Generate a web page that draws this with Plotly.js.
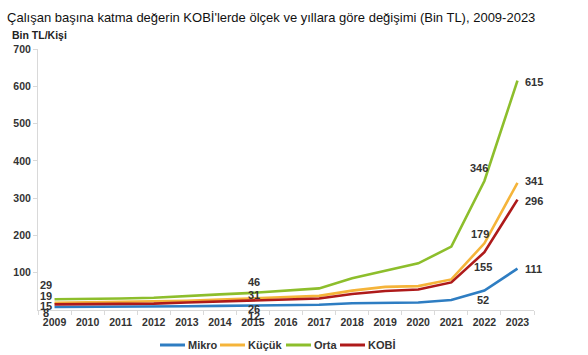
<!DOCTYPE html>
<html>
<head>
<meta charset="utf-8">
<script src="https://cdn.plot.ly/plotly-3.0.1.min.js"></script>
<style>html,body{margin:0;padding:0;background:#fff;}#chart{width:588px;height:355px;}</style>
</head>
<body>
<div id="chart"></div>
<script>
const years = ['2009','2010','2011','2012','2013','2014','2015','2016','2017','2018','2019','2020','2021','2022','2023'];
const mikro = [8, 8, 8, 8, 10, 11, 12, 13, 14, 18, 20, 20, 27, 52, 111];
const kucuk = [19, 20, 21, 22, 25, 28, 31, 33, 38, 52, 62, 64, 82, 179, 341];
const orta  = [29, 29, 31, 33, 38, 42, 46, 51, 58, 85, 105, 125, 170, 346, 615];
const kobi  = [15, 15, 16, 17, 20, 23, 26, 29, 31, 43, 51, 55, 74, 155, 296];
const seriesNames = ['Mikro', 'Küçük', 'Orta', 'KOBİ'];
const yTicks = [100, 200, 300, 400, 500, 600, 700];
const labelYears = ['2009', '2015', '2022', '2023'];

const colors = ['#2E7DC2', '#F5B43A', '#8DBE2C', '#AE1A1A'];
const seriesData = [mikro, kucuk, orta, kobi];
const FONT = 'Liberation Sans, Arial, sans-serif';

// plot area geometry (px)
const W = 588, H = 355, ML = 38, MR = 54, MT = 49, MB = 45;
const PW = W - ML - MR, PH = H - MT - MB;
const px2x = p => (p - ML) / PW;
const px2y = p => (H - MB - p) / PH;

const traces = seriesData.map((vals, i) => ({
  x: years, y: vals, name: seriesNames[i], type: 'scatter', mode: 'lines',
  line: {color: colors[i], width: 2.6}, hoverinfo: 'skip', showlegend: false
}));

// label offsets (px) per label year and series [mikro, kucuk, orta, kobi]
const shifts = {
  '2009': {xs: [-9, -9, -9, -9], xa: 'center', ys: [-6, 7, 14, -1.5]},
  '2015': {xs: [1, 1, 1, 1], xa: 'center', ys: [-10.5, 3.5, 11, -9]},
  '2022': {xs: [-1, -4, -5, -1.5], xa: 'center', ys: [-9, 9, 13, -15]},
  '2023': {xs: [6, 6, 6, 6], xa: 'left', ys: [0, 2, -1, -1]}
};
const annotations = [];
labelYears.forEach(yr => {
  const idx = years.indexOf(yr);
  const s = shifts[yr];
  seriesData.forEach((vals, i) => {
    annotations.push({
      x: idx, y: vals[idx], xref: 'x', yref: 'y', text: String(vals[idx]),
      showarrow: false, xanchor: s.xa, yanchor: 'middle', xshift: s.xs[i], yshift: s.ys[i],
      font: {family: FONT, size: 11, color: '#333333', weight: 'bold'}
    });
  });
});
annotations.push({
  text: 'Bin TL/Kişi', xref: 'paper', yref: 'paper', x: px2x(10), y: px2y(35),
  xanchor: 'left', yanchor: 'middle', showarrow: false,
  font: {family: FONT, size: 10.5, color: '#222222', weight: 'bold'}
});

// custom legend (line samples + names)
const legendStart = [160, 220, 286, 340];
const legendLineLen = 25;
const legendY = 345;
const shapes = [];
seriesNames.forEach((nm, i) => {
  shapes.push({
    type: 'line', xref: 'paper', yref: 'paper',
    x0: px2x(legendStart[i]), x1: px2x(legendStart[i] + legendLineLen),
    y0: px2y(legendY), y1: px2y(legendY),
    line: {color: colors[i], width: 3}
  });
  annotations.push({
    text: nm, xref: 'paper', yref: 'paper',
    x: px2x(legendStart[i] + legendLineLen + 1), y: px2y(legendY),
    xanchor: 'left', yanchor: 'middle', showarrow: false,
    font: {family: FONT, size: 11, color: '#333333', weight: 'bold'}
  });
});

const layout = {
  width: W, height: H,
  margin: {l: ML, r: MR, t: MT, b: MB, autoexpand: false},
  paper_bgcolor: '#ffffff', plot_bgcolor: '#ffffff',
  title: {
    text: 'Çalışan başına katma değerin KOBİ\'lerde ölçek ve yıllara göre değişimi (Bin TL), 2009-2023',
    x: 0.012, xanchor: 'left', xref: 'container', y: 0.952, yanchor: 'middle', yref: 'container',
    font: {family: FONT, size: 13, color: '#111111'}
  },
  showlegend: false,
  xaxis: {
    type: 'category', range: [-0.5, 14.5], tickson: 'boundaries', tickangle: 0,
    showgrid: false, zeroline: false, showline: true, linecolor: '#d9d9d9', linewidth: 1,
    ticks: 'outside', ticklen: 4, tickcolor: '#d9d9d9', ticklabelstandoff: 2,
    tickfont: {family: FONT, size: 10.5, color: '#333333', weight: 'bold'},
    fixedrange: true
  },
  yaxis: {
    range: [0, 700], tickvals: yTicks, ticktext: yTicks.map(String),
    showgrid: false, zeroline: false, showline: true, linecolor: '#d9d9d9', linewidth: 1,
    ticks: 'outside', ticklen: 4, tickcolor: '#d9d9d9',
    tickfont: {family: FONT, size: 10.5, color: '#333333', weight: 'bold'},
    fixedrange: true
  },
  shapes: shapes,
  annotations: annotations
};

Plotly.newPlot('chart', traces, layout, {displayModeBar: false, staticPlot: true});
</script>
</body>
</html>
